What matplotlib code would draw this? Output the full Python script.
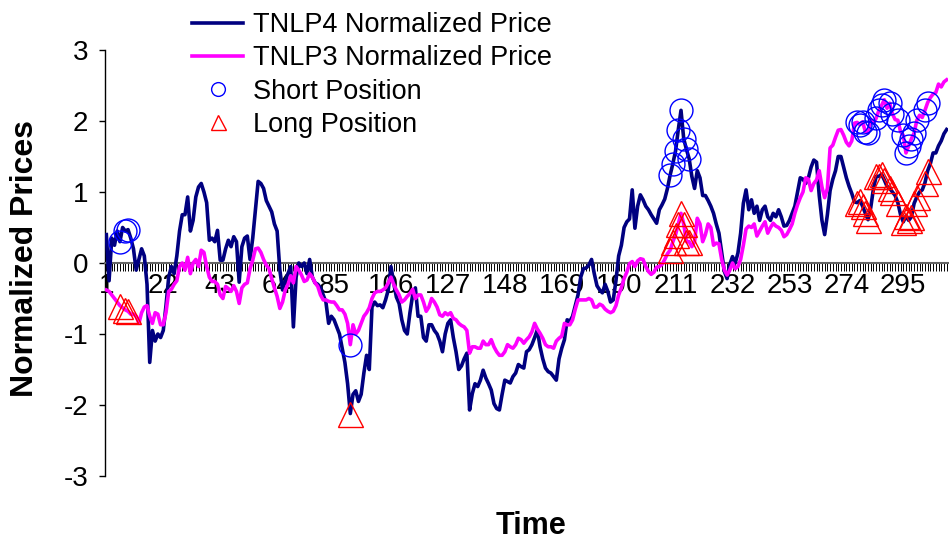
import matplotlib
matplotlib.use("Agg")
import matplotlib.pyplot as plt
import numpy as np

plt.rcParams['font.family'] = ['Liberation Sans', 'DejaVu Sans']
plt.rcParams['axes.unicode_minus'] = False

# TNLP4 normalized price, one value per time step (1..311)
tnlp4 = [
    0.40, -0.25, 0.35, 0.25, 0.45, 0.30, 0.50, 0.45, 0.47, 0.35,
    0.20, -0.10, 0.05, 0.20, 0.10, -0.30, -1.40, -0.95, -1.10, -1.00,
    -1.05, -0.95, -0.60, -0.20, -0.05, -0.15, 0.10, 0.45, 0.68, 0.68,
    0.93, 0.45, 0.60, 0.93, 1.07, 1.12, 1.00, 0.85, 0.32, 0.35,
    0.30, 0.46, 0.04, 0.04, 0.20, 0.32, 0.23, 0.37, 0.30, -0.27,
    0.23, 0.35, 0.38, 0.05, 0.35, 0.75, 1.15, 1.12, 1.05, 0.88,
    0.80, 0.72, 0.55, 0.45, -0.10, -0.38, -0.25, -0.15, -0.05, -0.90,
    -0.20, 0.00, -0.05, 0.00, -0.15, 0.05, -0.20, -0.28, -0.30, -0.35,
    -0.45, -0.55, -0.85, -0.75, -0.80, -0.90, -1.00, -1.20, -1.40, -1.70,
    -2.12, -1.85, -1.80, -1.95, -1.85, -1.55, -1.30, -1.50, -0.62, -0.55,
    -0.60, -0.59, -0.63, -0.52, -0.38, -0.05, -0.28, -0.48, -0.57, -0.80,
    -0.95, -1.00, -0.70, -0.45, -0.35, -0.75, -0.75, -1.05, -1.10, -0.87,
    -0.87, -0.95, -1.00, -1.10, -1.25, -1.00, -0.85, -0.80, -1.05, -1.25,
    -1.50, -1.45, -1.35, -1.27, -2.07, -1.84, -1.70, -1.74, -1.65, -1.51,
    -1.62, -1.70, -1.79, -1.98, -2.05, -2.07, -1.85, -1.65, -1.67, -1.69,
    -1.60, -1.55, -1.43, -1.46, -1.48, -1.25, -1.22, -1.15, -1.05, -0.94,
    -1.18, -1.35, -1.48, -1.53, -1.55, -1.60, -1.65, -1.35, -1.20, -1.08,
    -0.80, -0.82, -0.75, -0.60, -0.45, -0.20, -0.08, -0.07, -0.03, 0.05,
    -0.15, -0.32, -0.38, -0.42, -0.30, -0.40, -0.55, -0.52, -0.25, 0.10,
    0.25, 0.50, 0.58, 0.62, 1.03, 0.49, 0.80, 0.96, 0.89, 0.80,
    0.75, 0.68, 0.62, 0.56, 0.75, 0.82, 0.90, 1.05, 1.24, 1.40,
    1.58, 1.88, 2.15, 1.75, 1.60, 1.47, 1.22, 1.05, 1.30, 1.20,
    0.95, 0.95, 0.88, 0.80, 0.70, 0.55, 0.42, 0.15, -0.12, -0.22,
    -0.02, 0.09, 0.00, 0.14, 0.42, 0.84, 1.03, 0.75, 0.89, 0.70,
    0.80, 0.60, 0.75, 0.80, 0.65, 0.60, 0.70, 0.65, 0.75, 0.65,
    0.52, 0.53, 0.60, 0.70, 0.80, 1.00, 1.20, 1.18, 1.12, 1.20,
    1.35, 1.45, 1.42, 0.95, 0.60, 0.40, 0.68, 1.02, 1.18, 1.30,
    1.50, 1.50, 1.35, 1.20, 1.08, 0.98, 0.86, 0.85, 0.88, 0.80,
    0.70, 0.61, 0.78, 1.05, 1.22, 1.22, 1.25, 1.17, 1.08, 1.05,
    1.00, 0.95, 0.85, 0.68, 0.58, 0.66, 0.60, 0.65, 0.84, 0.93,
    1.00, 1.03, 1.13, 1.30, 1.40, 1.55, 1.55, 1.65, 1.72, 1.82,
    1.88,
]

# TNLP3 normalized price
tnlp3 = [
    -0.38, -0.40, -0.45, -0.50, -0.55, -0.60, -0.63, -0.66, -0.68, -0.72,
    -0.72, -0.75, -0.85, -0.70, -0.62, -0.60, -0.75, -0.85, -0.70, -0.72,
    -0.87, -0.87, -0.70, -0.40, -0.37, -0.30, -0.25, -0.05, 0.00, -0.10,
    0.08, -0.15, 0.00, 0.05, -0.05, 0.18, 0.15, -0.05, -0.20, -0.26,
    -0.26, -0.30, -0.45, -0.50, -0.33, -0.36, -0.40, -0.32, -0.40, -0.57,
    -0.35, -0.30, -0.28, -0.08, 0.04, 0.20, 0.21, 0.15, 0.05, -0.03,
    -0.08, -0.22, -0.35, -0.47, -0.64, -0.55, -0.38, -0.30, -0.18, -0.28,
    -0.05, -0.10, -0.17, -0.26, -0.24, -0.15, -0.20, -0.28, -0.33, -0.45,
    -0.52, -0.52, -0.54, -0.55, -0.55, -0.60, -0.66, -0.66, -0.72, -0.85,
    -1.15, -0.87, -1.00, -0.95, -0.85, -0.75, -0.70, -0.63, -0.50, -0.42,
    -0.40, -0.40, -0.38, -0.35, -0.28, -0.20, -0.30, -0.38, -0.45, -0.55,
    -0.52, -0.47, -0.43, -0.37, -0.50, -0.45, -0.45, -0.55, -0.68, -0.62,
    -0.50, -0.55, -0.62, -0.73, -0.75, -0.70, -0.73, -0.70, -0.78, -0.80,
    -0.85, -0.88, -0.90, -0.95, -1.27, -1.18, -1.18, -1.20, -1.20, -1.10,
    -1.15, -1.15, -1.08, -1.18, -1.25, -1.30, -1.30, -1.25, -1.15, -1.18,
    -1.20, -1.15, -1.06, -1.08, -1.13, -1.08, -1.04, -0.97, -0.85, -0.93,
    -0.99, -1.06, -1.15, -1.18, -1.18, -1.20, -1.10, -1.06, -1.03, -0.85,
    -0.87, -0.87, -0.80, -0.65, -0.52, -0.52, -0.52, -0.52, -0.50, -0.52,
    -0.62, -0.62, -0.58, -0.60, -0.65, -0.68, -0.70, -0.68, -0.60, -0.45,
    -0.35, -0.22, -0.13, -0.01, 0.02, -0.05, 0.03, 0.06, 0.05, -0.05,
    -0.12, -0.16, -0.13, -0.06, -0.05, -0.02, 0.05, 0.13, 0.18, 0.30,
    0.40, 0.55, 0.70, 0.55, 0.30, 0.30, 0.23, 0.30, 0.63, 0.55,
    0.30, 0.40, 0.55, 0.50, 0.25, 0.28, 0.27, 0.05, -0.10, -0.17,
    -0.10, 0.00, -0.08, -0.05, 0.05, 0.25, 0.48, 0.52, 0.50, 0.55,
    0.38, 0.45, 0.52, 0.58, 0.42, 0.50, 0.56, 0.52, 0.50, 0.46,
    0.37, 0.40, 0.47, 0.55, 0.70, 0.82, 0.92, 1.00, 1.20, 1.18,
    1.02, 1.12, 1.17, 1.30, 1.07, 0.92, 1.05, 1.62, 1.66, 1.77,
    1.87, 1.88, 1.80, 1.70, 1.65, 1.72, 1.97, 1.98, 1.95, 1.99,
    1.85, 1.83, 2.02, 1.97, 2.04, 2.15, 2.22, 2.30, 2.18, 2.25,
    2.10, 2.02, 2.01, 1.85, 1.80, 1.55, 1.65, 1.75, 1.83, 2.01,
    2.08, 2.05, 2.15, 2.26, 2.33, 2.38, 2.40, 2.52, 2.48, 2.55,
    2.58,
]

# time steps where a position was opened (short the dearer leg, long the cheaper)
trade_times = [6, 8, 9, 91, 209, 210, 211, 212, 213, 214, 215, 216,
               278, 279, 280, 281, 282, 285, 286, 287, 288, 290, 291, 293,
               295, 296, 297, 298, 299, 300, 303, 304]

time = np.arange(1, len(tnlp4) + 1)
p4 = np.array(tnlp4)
p3 = np.array(tnlp3)
idx = np.array(trade_times) - 1
short_y = np.maximum(p4[idx], p3[idx])
long_y = np.minimum(p4[idx], p3[idx])

fig = plt.figure(figsize=(9.49, 5.40), dpi=100)
ax = fig.add_axes([105 / 949, 1 - 476 / 540, 843 / 949, 426 / 540])

ax.plot(time, p4, color='#000080', lw=2.6, label='TNLP4 Normalized Price',
        solid_joinstyle='round', zorder=3)
ax.plot(time, p3, color='#FF00FF', lw=2.6, label='TNLP3 Normalized Price',
        solid_joinstyle='round', zorder=4)
ax.plot(trade_times, short_y, 'o', ms=16.5, mfc='none', mec='#0000FF', mew=1.0,
        label='Short Position', zorder=5)
ax.plot(trade_times, long_y, '^', ms=18, mfc='none', mec='#FF0000', mew=1.0,
        label='Long Position', zorder=5)

ax.set_xlim(0.5, len(time) + 0.5)
ax.set_ylim(-3, 3)

for s in ['top', 'right']:
    ax.spines[s].set_visible(False)
ax.spines['bottom'].set_position(('data', 0))
ax.spines['bottom'].set_color('#666666')
ax.spines['bottom'].set_linewidth(1.5)
ax.spines['left'].set_linewidth(1.0)

ax.set_xticks(time)
ax.set_xticklabels([str(t) if (t - 1) % 21 == 0 else '' for t in time])
ax.tick_params(axis='x', direction='out', length=5.5, width=0.7, pad=2,
               labelsize=20)
ax.set_yticks([-3, -2, -1, 0, 1, 2, 3])
ax.tick_params(axis='y', direction='out', length=4, width=1, pad=8,
               labelsize=20)

fig.text(25 / 949, 1 - 258 / 540, 'Normalized Prices', rotation=90,
         ha='center', va='center', fontsize=23, fontweight='bold')
fig.text(531 / 949, 1 - 534 / 540, 'Time', ha='center', va='baseline',
         fontsize=22, fontweight='bold')

ax.legend(loc='upper left', bbox_to_anchor=(192 / 949, 1 - 12 / 540),
          bbox_transform=fig.transFigure, frameon=False, fontsize=19.5,
          handlelength=1.9, handletextpad=0.35, labelspacing=0.27,
          borderpad=0, borderaxespad=0, markerscale=0.6)

fig.savefig('out.png', dpi=100)
